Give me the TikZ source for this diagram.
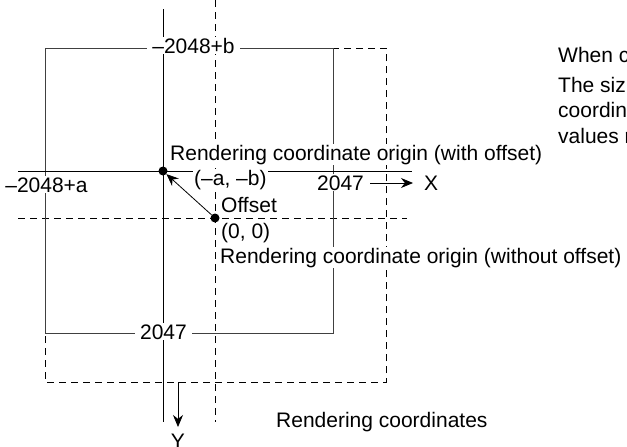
\documentclass[tikz,border=0pt]{standalone}
\usepackage{fontspec}
\setmainfont{Liberation Sans}
\usetikzlibrary{arrows.meta}
\begin{document}
\begin{tikzpicture}[x=1pt,y=-1pt,
  every node/.style={font=\fontsize{21}{25}\selectfont,inner sep=1pt},
  lbl/.style={fill=white},
  wlbl/.style={fill=white,inner xsep=5pt},
  axis/.style={line width=0.9pt,black},
  boxline/.style={line width=0.9pt,black!75},
  dline/.style={line width=0.9pt,black,dash pattern=on 7pt off 5pt},
  dot/.style={circle,fill=black,inner sep=0pt,minimum size=9pt},
  arr/.style={line width=0.8pt,-{Stealth[length=12pt,width=10pt]}}]
\useasboundingbox (0,0) rectangle (627,447);
% coordinates
\coordinate (ya0) at (163,9);
\coordinate (ya1) at (163,422);
\coordinate (yb0) at (215,0);
\coordinate (yb1) at (215,422);
\coordinate (xa0) at (18,171);
\coordinate (xa1) at (412,171);
\coordinate (xb0) at (18,218);
\coordinate (xb1) at (407,218);
\coordinate (tl) at (45,48);
\coordinate (sbr) at (333,333);
\coordinate (dbr) at (386,382);
\coordinate (xs) at (370,183);
\coordinate (xe) at (413,183);
\coordinate (ys) at (178,382);
\coordinate (ye) at (178,427);
% dashed region
\draw[dline] (tl) rectangle (dbr);
\draw[dline] (yb0) -- (yb1);
\draw[dline] (xb0) -- (xb1);
% solid region
\draw[boxline] (tl) rectangle (sbr);
\draw[axis] (ya0) -- (ya1);
\draw[axis] (xa0) -- (xa1);
% labels
\node[wlbl,anchor=base] (tb) at (193.5,53) {–2048+b};
\node[lbl,anchor=base] (la) at (46.5,192) {–2048+a};
\node[wlbl,anchor=base] (bb) at (163.5,339) {2047};
\node[lbl,anchor=base west] (rr) at (316,190) {2047};
\node[anchor=base west] (X) at (423,190) {X};
\node[anchor=base] (Y) at (178,448) {Y};
\node[lbl,anchor=base west] (wo) at (169,160) {Rendering coordinate origin (with offset)};
\node[lbl,anchor=base west] (ab) at (193,185) {(–a, –b)};
\node[anchor=base west] (off) at (220,212) {Offset};
\node[anchor=base west] (zz) at (220,238) {(0, 0)};
\node[lbl,anchor=base west] (wno) at (219,263) {Rendering coordinate origin (without offset)};
\node[anchor=base west] (rc) at (275,427) {Rendering coordinates};
\node[anchor=base west] (t1) at (557,62) {When c};
\node[anchor=base west] (t2) at (557,92) {The siz};
\node[anchor=base west] (t3) at (557,117) {coordin};
\node[anchor=base west] (t4) at (557,143) {values r};
% dots and arrows
\node[dot] (o1) at (163,171) {};
\node[dot] (o0) at (215,218) {};
\draw[arr] (o0) -- (o1);
\draw[arr] (xs) -- (xe);
\draw[arr] (ys) -- (ye);
\end{tikzpicture}
\end{document}
